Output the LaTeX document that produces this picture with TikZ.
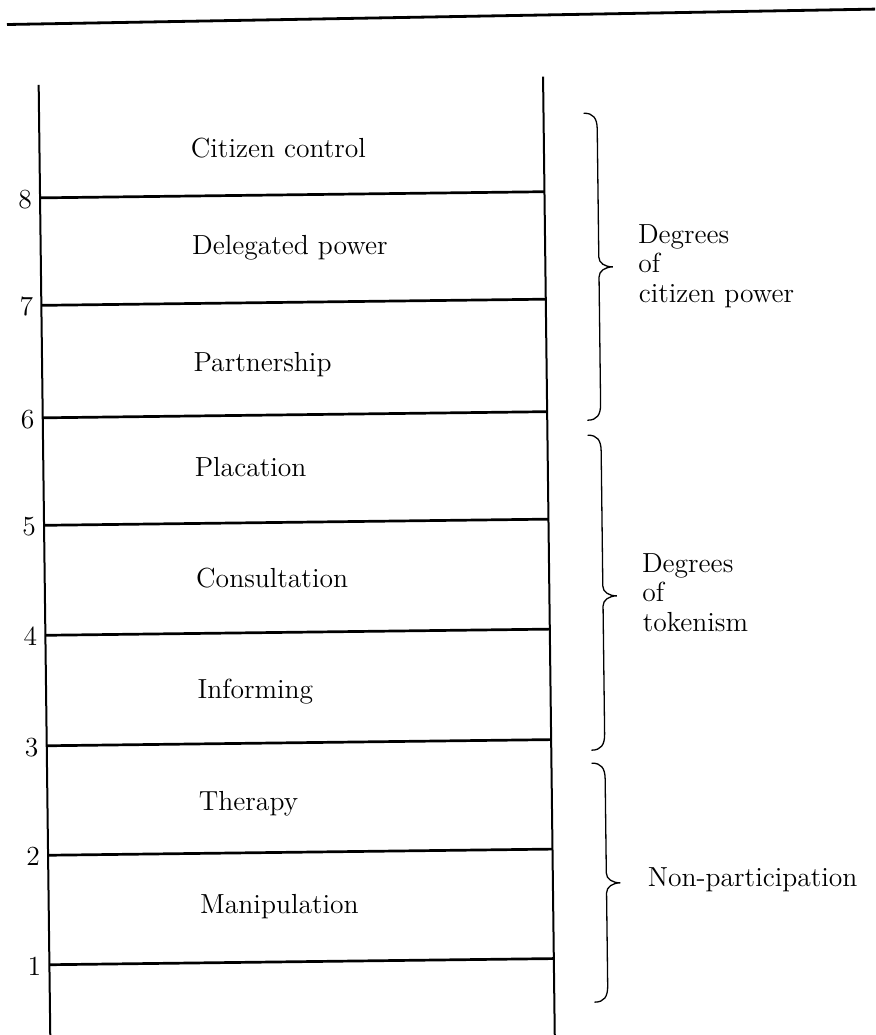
\documentclass[tikz,border=0pt]{standalone}
\usepackage{fontspec}
\newcommand\lbl{\fontsize{13.8}{14.75}\selectfont}
\tikzset{
  rail/.style={line width=1pt},
  rung/.style={line width=1.35pt},
  topline/.style={line width=1.4pt},
  bracestyle/.style={line width=0.65pt, line cap=round},
  lab/.style={anchor=base west, inner sep=0pt, font=\lbl},
  num/.style={anchor=base east, inner sep=0pt, font=\lbl},
}
% #1 top, #2 tip, #3 bottom
\newcommand\ladderbrace[3]{%
  \draw[bracestyle] (589,#1) .. controls (598,#1) and (602,#1+5) .. (602,#1+16)
    -- (602,#2-10) .. controls (602,#2-4) and (608,#2) .. (616,#2)
    .. controls (608,#2) and (602,#2+4) .. (602,#2+10)
    -- (602,#3-16) .. controls (602,#3-5) and (598,#3) .. (589,#3);}
\begin{document}
\begin{tikzpicture}[x=0.5pt,y=-0.5pt]
  \clip (0,0) rectangle (875,1035);
  \fill[white] (0,0) rectangle (875,1035);
  \coordinate (TL) at (7,24.5);
  \coordinate (TR) at (880,9);
  \draw[topline] (TL) -- (TR);
  \begin{scope}[rotate around={0.7:(440,520)}]
    \coordinate (LT) at (44,80);
    \coordinate (LB) at (44,1070);
    \coordinate (RT) at (548.5,78);
    \coordinate (RB) at (548.5,1070);
    \draw[rail] (LT) -- (LB);
    \draw[rail] (RT) -- (RB);
    \foreach \k/\y in {8/193,7/300.5,6/413,5/520.5,4/630.5,3/741,2/850.5,1/960} {
      \coordinate (L\k) at (44,\y);
      \coordinate (R\k) at (548.5,\y);
      \draw[rung] (L\k) -- (R\k);
      \node[num] (n\k) at (36,\y+10.5) {\k};
    }
    \node[lab] (cc) at (195,154.7) {Citizen control};
    \node[lab] (dp) at (195,251) {Delegated power};
    \node[lab] (pa) at (195,368) {Partnership};
    \node[lab] (pl) at (195,473) {Placation};
    \node[lab] (co) at (195,585) {Consultation};
    \node[lab] (in) at (195,696) {Informing};
    \node[lab] (th) at (195,808) {Therapy};
    \node[lab] (ma) at (195,911) {Manipulation};

    \ladderbrace{115}{269}{422}
    \ladderbrace{437}{598}{752}
    \ladderbrace{765}{885}{1004}

    \node[lab] (dga) at (641,245.5) {Degrees};
    \node[lab] (ofa) at (641,275) {of};
    \node[lab] (cpa) at (641,304.5) {citizen power};
    \node[lab] (dgb) at (641,574.5) {Degrees};
    \node[lab] (ofb) at (641,604) {of};
    \node[lab] (tkb) at (641,633.5) {tokenism};
    \node[lab] (npc) at (643,889.5) {Non-participation};
  \end{scope}
\end{tikzpicture}
\end{document}
